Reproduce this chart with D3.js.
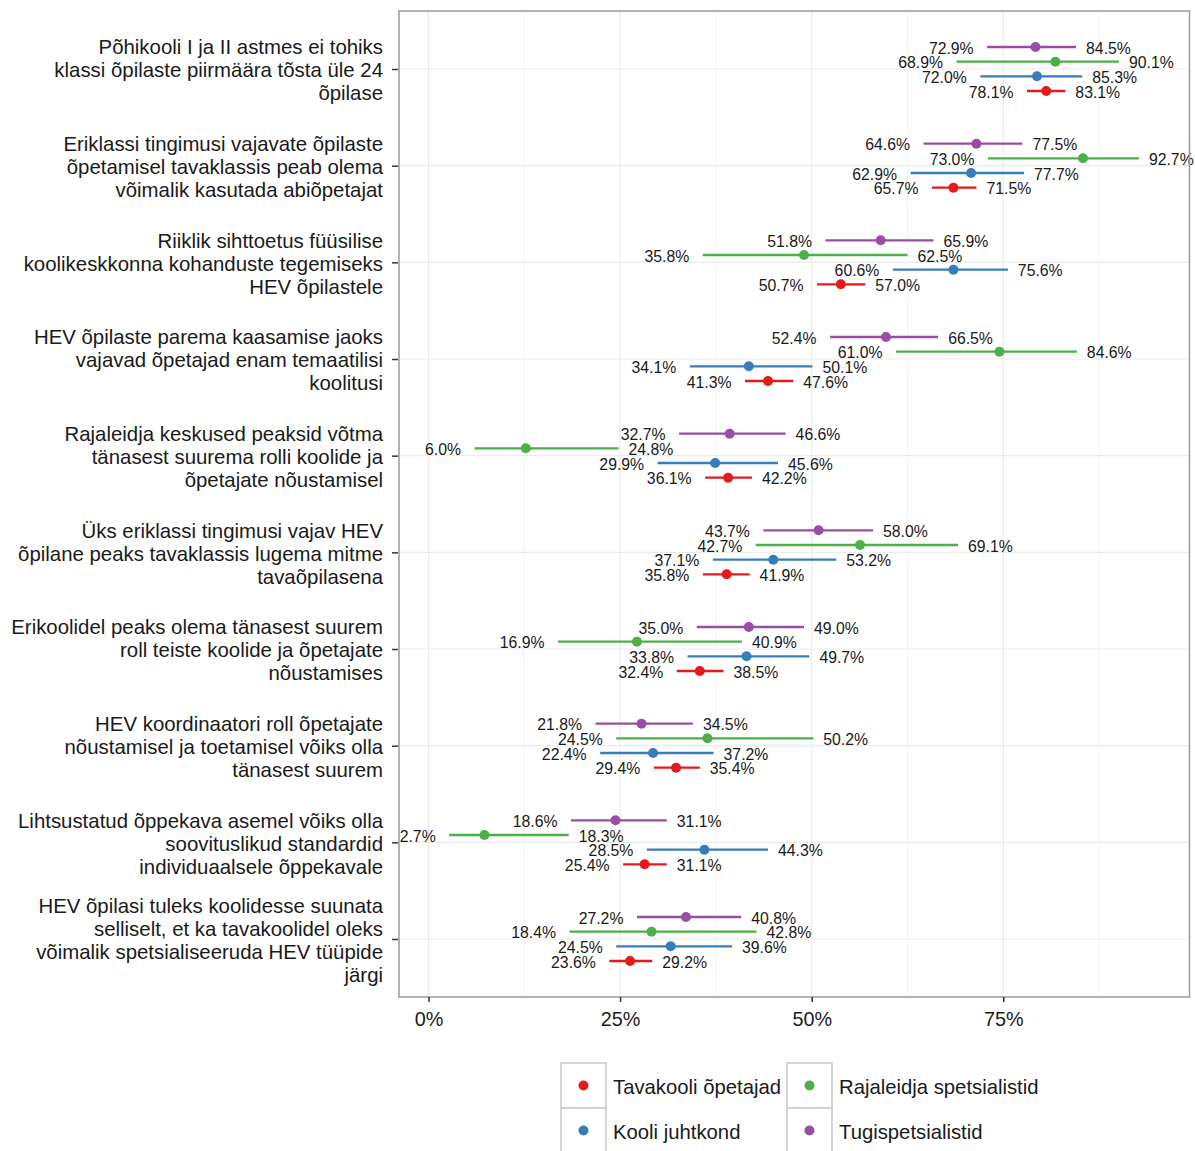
<!DOCTYPE html>
<html>
<head>
<meta charset="utf-8">
<script src="https://cdn.jsdelivr.net/npm/d3@7"></script>
<style>
  html, body { margin: 0; padding: 0; background: #fff; }
  svg { display: block; }
  text { font-family: "Liberation Sans", Arial, sans-serif; }
</style>
</head>
<body>
<svg id="chart" width="1195" height="1151"></svg>
<script>
// ---------- data ----------
const categories = [
  "Põhikooli I ja II astmes ei tohiks\nklassi õpilaste piirmäära tõsta üle 24\nõpilase",
  "Eriklassi tingimusi vajavate õpilaste\nõpetamisel tavaklassis peab olema\nvõimalik kasutada abiõpetajat",
  "Riiklik sihttoetus füüsilise\nkoolikeskkonna kohanduste tegemiseks\nHEV õpilastele",
  "HEV õpilaste parema kaasamise jaoks\nvajavad õpetajad enam temaatilisi\nkoolitusi",
  "Rajaleidja keskused peaksid võtma\ntänasest suurema rolli koolide ja\nõpetajate nõustamisel",
  "Üks eriklassi tingimusi vajav HEV\nõpilane peaks tavaklassis lugema mitme\ntavaõpilasena",
  "Erikoolidel peaks olema tänasest suurem\nroll teiste koolide ja õpetajate\nnõustamises",
  "HEV koordinaatori roll õpetajate\nnõustamisel ja toetamisel võiks olla\ntänasest suurem",
  "Lihtsustatud õppekava asemel võiks olla\nsoovituslikud standardid\nindividuaalsele õppekavale",
  "HEV õpilasi tuleks koolidesse suunata\nselliselt, et ka tavakoolidel oleks\nvõimalik spetsialiseeruda HEV tüüpide\njärgi"
];

const seriesNames = ["Tavakooli õpetajad", "Kooli juhtkond", "Rajaleidja spetsialistid", "Tugispetsialistid"];
const seriesColors = ["#E41A1C", "#377EB8", "#4DAF4A", "#984EA3"];
// vertical order inside a group, top to bottom
const dodgeOrder = ["Tugispetsialistid", "Rajaleidja spetsialistid", "Kooli juhtkond", "Tavakooli õpetajad"];

const tavakooliEst = [80.6, 68.5, 53.8, 44.3, 39.1, 38.9, 35.4, 32.3, 28.2, 26.3];
const tavakooliLo  = [78.1, 65.7, 50.7, 41.3, 36.1, 35.8, 32.4, 29.4, 25.4, 23.6];
const tavakooliHi  = [83.1, 71.5, 57.0, 47.6, 42.2, 41.9, 38.5, 35.4, 31.1, 29.2];

const juhtkondEst = [79.4, 70.8, 68.5, 41.8, 37.4, 45.0, 41.5, 29.3, 36.0, 31.6];
const juhtkondLo  = [72.0, 62.9, 60.6, 34.1, 29.9, 37.1, 33.8, 22.4, 28.5, 24.5];
const juhtkondHi  = [85.3, 77.7, 75.6, 50.1, 45.6, 53.2, 49.7, 37.2, 44.3, 39.6];

const rajaleidjaEst = [81.8, 85.4, 49.0, 74.5, 12.7, 56.3, 27.2, 36.4, 7.3, 29.1];
const rajaleidjaLo  = [68.9, 73.0, 35.8, 61.0, 6.0, 42.7, 16.9, 24.5, 2.7, 18.4];
const rajaleidjaHi  = [90.1, 92.7, 62.5, 84.6, 24.8, 69.1, 40.9, 50.2, 18.3, 42.8];

const tugiEst = [79.2, 71.5, 59.0, 59.7, 39.3, 50.9, 41.8, 27.8, 24.4, 33.6];
const tugiLo  = [72.9, 64.6, 51.8, 52.4, 32.7, 43.7, 35.0, 21.8, 18.6, 27.2];
const tugiHi  = [84.5, 77.5, 65.9, 66.5, 46.6, 58.0, 49.0, 34.5, 31.1, 40.8];

const xTicks = [0, 25, 50, 75];
const xMinor = [12.5, 37.5, 62.5, 87.5];

// ---------- build table ----------
const seriesData = [
  {name: seriesNames[0], est: tavakooliEst, lo: tavakooliLo, hi: tavakooliHi},
  {name: seriesNames[1], est: juhtkondEst, lo: juhtkondLo, hi: juhtkondHi},
  {name: seriesNames[2], est: rajaleidjaEst, lo: rajaleidjaLo, hi: rajaleidjaHi},
  {name: seriesNames[3], est: tugiEst, lo: tugiLo, hi: tugiHi}
];
const rows = [];
seriesData.forEach(s => {
  categories.forEach((c, i) => {
    rows.push({series: s.name, cat: c, est: s.est[i], lo: s.lo[i], hi: s.hi[i]});
  });
});

// ---------- layout ----------
const panel = {left: 399, right: 1189.5, top: 11, bottom: 997};
const svg = d3.select("#chart");

const x = d3.scaleLinear().domain([-3.849, 99.30]).range([panel.left, panel.right]);
const y = d3.scalePoint().domain(categories).range([panel.top, panel.bottom]).padding(0.6);
const dodge = d3.scalePoint().domain(dodgeOrder).range([-22, 22]);
const color = d3.scaleOrdinal().domain(seriesNames).range(seriesColors);
const fmt = v => d3.format(".1f")(v) + "%";

// panel background + grid
svg.append("rect").attr("x", panel.left).attr("y", panel.top)
  .attr("width", panel.right - panel.left).attr("height", panel.bottom - panel.top)
  .attr("fill", "#fff");

const grid = svg.append("g");
grid.selectAll("line.minor").data(xMinor).join("line")
  .attr("x1", d => x(d)).attr("x2", d => x(d))
  .attr("y1", panel.top).attr("y2", panel.bottom)
  .attr("stroke", "#F4F4F4").attr("stroke-width", 1);
grid.selectAll("line.majx").data(xTicks).join("line")
  .attr("x1", d => x(d)).attr("x2", d => x(d))
  .attr("y1", panel.top).attr("y2", panel.bottom)
  .attr("stroke", "#EBEBEB").attr("stroke-width", 1.2);
grid.selectAll("line.majy").data(categories).join("line")
  .attr("x1", panel.left).attr("x2", panel.right)
  .attr("y1", d => y(d)).attr("y2", d => y(d))
  .attr("stroke", "#EBEBEB").attr("stroke-width", 1.2);

// marks
const marks = svg.append("g");
const yy = d => y(d.cat) + dodge(d.series);

marks.selectAll("line.ci").data(rows).join("line")
  .attr("x1", d => x(d.lo)).attr("x2", d => x(d.hi))
  .attr("y1", yy).attr("y2", yy)
  .attr("stroke", d => color(d.series)).attr("stroke-width", 2.4);

marks.selectAll("circle.pt").data(rows).join("circle")
  .attr("cx", d => x(d.est)).attr("cy", yy).attr("r", 5)
  .attr("fill", d => color(d.series));

marks.selectAll("text.lo").data(rows).join("text")
  .attr("x", d => x(d.lo) - 13.5).attr("y", d => yy(d) + 1)
  .attr("dy", "0.35em").attr("text-anchor", "end")
  .attr("font-size", 15.8).attr("fill", "#1a1a1a")
  .text(d => fmt(d.lo));

marks.selectAll("text.hi").data(rows).join("text")
  .attr("x", d => x(d.hi) + 10).attr("y", d => yy(d) + 1)
  .attr("dy", "0.35em").attr("text-anchor", "start")
  .attr("font-size", 15.8).attr("fill", "#1a1a1a")
  .text(d => fmt(d.hi));

// panel border
svg.append("rect").attr("x", panel.left).attr("y", panel.top)
  .attr("width", panel.right - panel.left).attr("height", panel.bottom - panel.top)
  .attr("fill", "none").attr("stroke", "#9A9A9A").attr("stroke-width", 1.5);

// x axis
const xAxis = d3.axisBottom(x).tickValues(xTicks).tickFormat(d => d + "%")
  .tickSize(5).tickPadding(10);
const gx = svg.append("g").attr("transform", `translate(0,${panel.bottom})`).call(xAxis);
gx.select(".domain").remove();
gx.selectAll(".tick line").attr("stroke", "#333").attr("stroke-width", 1.5);
gx.selectAll(".tick text").attr("font-size", 19.8).attr("fill", "#1a1a1a")
  .attr("font-family", "Liberation Sans, Arial, sans-serif");

// y axis
const yAxis = d3.axisLeft(y).tickSize(6).tickFormat("");
const gy = svg.append("g").attr("transform", `translate(${panel.left - 1},0)`).call(yAxis);
gy.select(".domain").remove();
gy.selectAll(".tick line").attr("stroke", "#333").attr("stroke-width", 1.5);

const lh = 23;
const ylab = svg.append("g");
categories.forEach(c => {
  const lines = c.split("\n");
  const t = ylab.append("text")
    .attr("text-anchor", "end").attr("font-size", 20.4).attr("fill", "#1a1a1a");
  lines.forEach((ln, i) => {
    t.append("tspan").attr("x", 383)
      .attr("y", y(c) + 1 + (i - (lines.length - 1) / 2) * lh)
      .attr("dy", "0.36em").text(ln);
  });
});

// legend
const legendCols = [
  [seriesNames[0], seriesNames[1]],
  [seriesNames[2], seriesNames[3]]
];
const legX = [561, 787];
const legY = 1063;
const keySize = 45;
const leg = svg.append("g");
legendCols.forEach((col, ci) => {
  col.forEach((name, ri) => {
    const kx = legX[ci], ky = legY + ri * keySize;
    leg.append("rect").attr("x", kx).attr("y", ky)
      .attr("width", keySize).attr("height", keySize)
      .attr("fill", "#fff").attr("stroke", "#CCCCCC").attr("stroke-width", 1.6);
    leg.append("circle").attr("cx", kx + keySize / 2).attr("cy", ky + keySize / 2)
      .attr("r", 5).attr("fill", color(name));
    leg.append("text").attr("x", kx + keySize + 7).attr("y", ky + keySize / 2 + 1)
      .attr("dy", "0.36em").attr("font-size", 20.3).attr("fill", "#1a1a1a")
      .text(name);
  });
});
</script>
</body>
</html>
